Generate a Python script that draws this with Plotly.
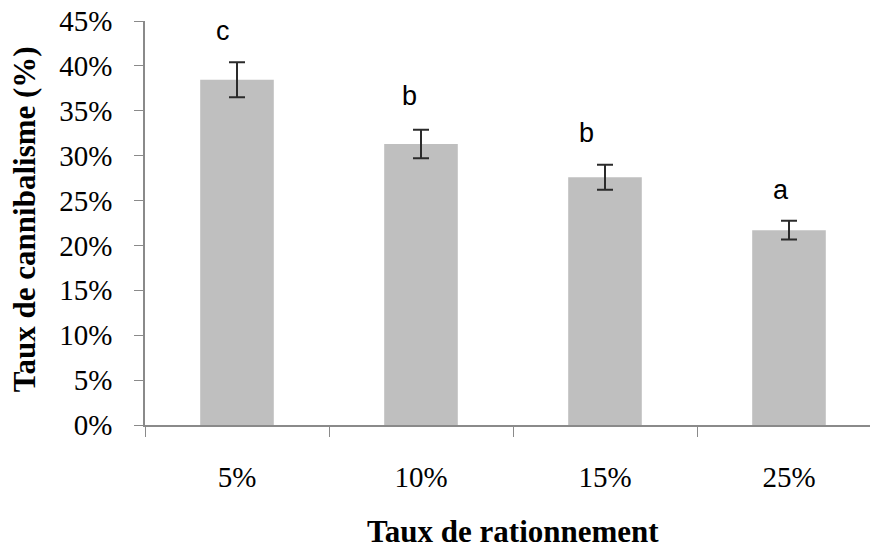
import plotly.graph_objects as go

# Rationing level (x categories) and cannibalism rate (%)
categories = ["5%", "10%", "15%", "25%"]
cannibalism = [38.45, 31.3, 27.6, 21.7]
std_error = [1.95, 1.6, 1.4, 1.05]
group_letters = ["c", "b", "b", "a"]
letter_heights = [43.85, 36.6, 32.55, 26.15]
y_ticks = [0, 5, 10, 15, 20, 25, 30, 35, 40, 45]

# Horizontal nudges of the significance letters (in category units)
letter_dx = [-0.076, -0.060, -0.100, -0.044]

W, H = 870, 550
L, R, T, B = 145, 0, 21, 124.5
plot_w = W - L - R
cat_px = 184.0
x_max = plot_w / cat_px - 0.5

serif = "Liberation Serif, Times New Roman, serif"
sans = "Liberation Sans, Arial, sans-serif"
axis_grey = "#8a8a8a"

fig = go.Figure()
fig.add_trace(go.Bar(
    x=categories,
    y=cannibalism,
    width=0.4,
    marker=dict(color="#bfbfbf", line=dict(width=0)),
    error_y=dict(type="data", array=std_error, visible=True,
                 color="#2b2b2b", thickness=2, width=8),
    showlegend=False,
    hoverinfo="skip",
))

annotations = []
for i, (txt, h) in enumerate(zip(group_letters, letter_heights)):
    annotations.append(dict(
        x=i + letter_dx[i], y=h, xref="x", yref="y",
        text=txt, showarrow=False, xanchor="center", yanchor="middle",
        font=dict(family=sans, size=27, color="black"),
    ))

# Axis titles
annotations.append(dict(
    x=(513 - L) / plot_w, y=(425.5 - 532) / (H - T - B),
    xref="paper", yref="paper", text="<b>Taux de rationnement</b>",
    showarrow=False, xanchor="center", yanchor="middle",
    font=dict(family=serif, size=31, color="black"),
))
annotations.append(dict(
    x=(24 - L) / plot_w, y=(425.5 - 219.5) / (H - T - B),
    xref="paper", yref="paper", text="<b>Taux de cannibalisme (%)</b>",
    showarrow=False, xanchor="center", yanchor="middle", textangle=-90,
    font=dict(family=serif, size=31, color="black"),
))

fig.update_layout(
    width=W, height=H,
    margin=dict(l=L, r=R, t=T, b=B, pad=0),
    paper_bgcolor="white", plot_bgcolor="white",
    bargap=0.6,
    annotations=annotations,
    xaxis=dict(
        type="category",
        range=[-0.5, x_max],
        tickson="boundaries",
        ticks="outside", ticklen=10, tickwidth=1.2, tickcolor=axis_grey,
        showline=True, linecolor=axis_grey, linewidth=1.5,
        showgrid=False, zeroline=False,
        ticklabelstandoff=25,
        tickfont=dict(family=serif, size=29, color="black"),
    ),
    yaxis=dict(
        range=[0, 45],
        tickmode="array",
        tickvals=y_ticks,
        ticktext=[f"{v}%" for v in y_ticks],
        ticks="outside", ticklen=9, tickwidth=1.2, tickcolor=axis_grey,
        showline=True, linecolor=axis_grey, linewidth=1.5,
        showgrid=False, zeroline=False,
        ticklabelstandoff=16,
        tickfont=dict(family=serif, size=29, color="black"),
    ),
)

fig.write_html("out.html")
